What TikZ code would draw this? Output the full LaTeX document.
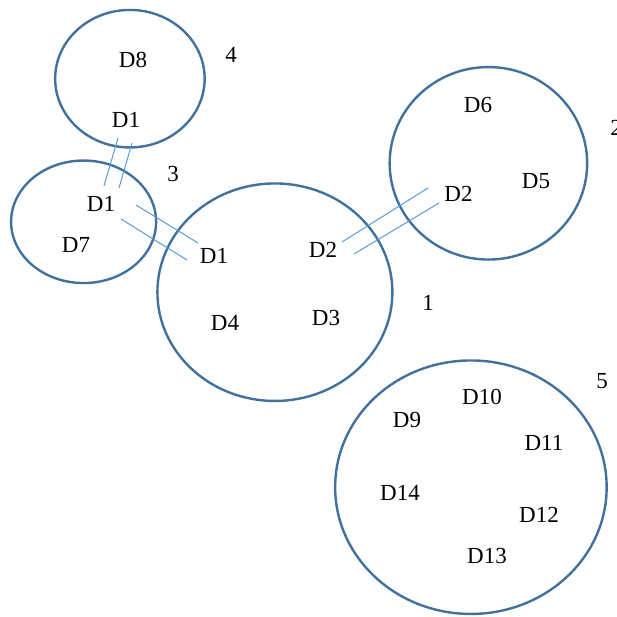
\documentclass[tikz,border=0pt]{standalone}
\usepackage{fontspec}
\setmainfont{Liberation Serif}
\usetikzlibrary{shapes.geometric}
\definecolor{ringblue}{HTML}{41719C}
\definecolor{linkblue}{HTML}{5B9BD5}
\begin{document}
\begin{tikzpicture}[x=1pt,y=-1pt,
  ring/.style={ellipse,draw=ringblue,line width=2.4pt,inner sep=0pt,outer sep=0pt},
  lbl/.style={anchor=base,inner sep=0pt,font=\fontsize{23}{27}\selectfont},
  link/.style={draw=linkblue,line width=1pt}]
\useasboundingbox (0,0) rectangle (617,617);

% groups drawn as ellipses
\node[ring,minimum width=149.5pt,minimum height=137.5pt] (g4) at (129.9,78.7) {};
\node[ring,minimum width=145pt,minimum height=122.5pt] (g3) at (83.6,221.8) {};
\node[ring,minimum width=235pt,minimum height=217.5pt] (g1) at (274.9,292.2) {};
\node[ring,minimum width=197.5pt,minimum height=192.5pt] (g2) at (488.4,163.3) {};
\node[ring,minimum width=271.5pt,minimum height=253.5pt] (g5) at (470.9,487.2) {};

% group numbers
\node[lbl] (n4) at (231,63) {4};
\node[lbl] (n3) at (173,182) {3};
\node[lbl] (n1) at (428,310) {1};
\node[lbl] (n2) at (616,136) {2};
\node[lbl] (n5) at (602,388) {5};

% members of group 4
\node[lbl] (d8) at (133,68) {D8};
\node[lbl] (d1a) at (126,128) {D1};
% members of group 3
\node[lbl] (d1b) at (101,212) {D1};
\node[lbl] (d7) at (76,252) {D7};
% members of group 1
\node[lbl] (d1c) at (214,263) {D1};
\node[lbl] (d2a) at (323,258) {D2};
\node[lbl] (d4) at (225,330) {D4};
\node[lbl] (d3) at (326,325) {D3};
% members of group 2
\node[lbl] (d6) at (478,113) {D6};
\node[lbl] (d2b) at (458.5,202) {D2};
\node[lbl] (d5) at (536,189) {D5};
% members of group 5
\node[lbl] (d10) at (482,404) {D10};
\node[lbl] (d9) at (407,427) {D9};
\node[lbl] (d11) at (544,450) {D11};
\node[lbl] (d14) at (400,500) {D14};
\node[lbl] (d12) at (539,522) {D12};
\node[lbl] (d13) at (487,563) {D13};

% double links between shared members
\coordinate (a1) at (118,138); \coordinate (a2) at (104,186);
\coordinate (b1) at (132,143); \coordinate (b2) at (119,188);
\coordinate (c1) at (136,205); \coordinate (c2) at (198,243);
\coordinate (e1) at (121,219); \coordinate (e2) at (187,260);
\coordinate (f1) at (342,242); \coordinate (f2) at (428,188);
\coordinate (h1) at (354,254); \coordinate (h2) at (439,203);
\draw[link] (a1) -- (a2);
\draw[link] (b1) -- (b2);
\draw[link] (c1) -- (c2);
\draw[link] (e1) -- (e2);
\draw[link] (f1) -- (f2);
\draw[link] (h1) -- (h2);
\end{tikzpicture}
\end{document}
